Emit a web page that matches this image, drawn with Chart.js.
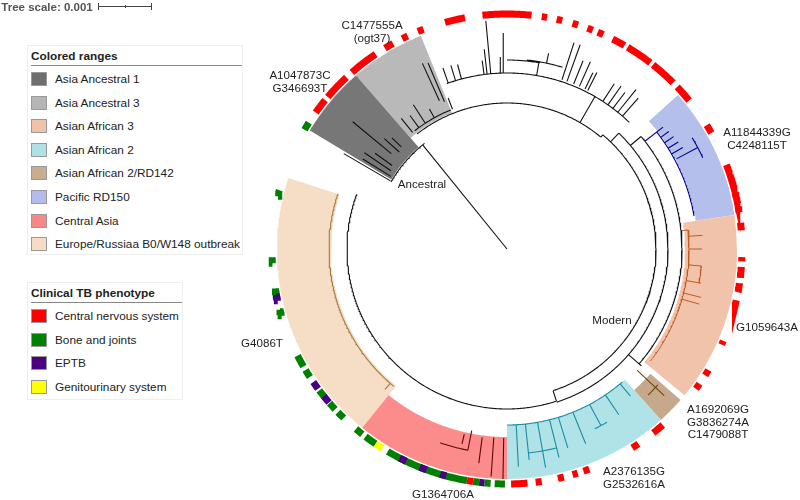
<!DOCTYPE html>
<html><head><meta charset="utf-8">
<script src="https://cdn.jsdelivr.net/npm/chart.js@4.4.0/dist/chart.umd.min.js"></script>
<style>
body{margin:0;background:#fff;font-family:"Liberation Sans",Arial,sans-serif;color:#222;}
#wrap{position:relative;width:800px;height:500px;overflow:hidden;}
canvas{position:absolute;left:0;top:0;}
.t{position:absolute;font-size:11.6px;white-space:nowrap;line-height:12.5px;text-align:center;transform:translate(-50%,-50%);}
.lg{position:absolute;background:#fff;border:1px solid #eeeeee;}
.lg .ti{position:absolute;left:3px;font-weight:bold;font-size:11.8px;}
.lg .ul{position:absolute;left:3px;height:1px;background:#888;}
.lg .sw{position:absolute;left:3px;width:16px;height:14px;box-sizing:border-box;border:1px solid #999;}
.lg .it{position:absolute;left:27px;font-size:11.8px;white-space:nowrap;}
</style></head>
<body><div id="wrap"><canvas id="c" width="800" height="500"></canvas></div>
<script>
// ---------- DATA (angles: degrees clockwise from top; radii: tree depth units) ----------
const rangeNames  = ["Asia Ancestral 1","Asia Ancestral 3","Asian African 3","Asian African 2","Asian African 2/RD142","Pacific RD150","Central Asia","Europe/Russiaa B0/W148 outbreak"];
const rangeStart  = [301, 319, 81.5, 138, 131, 48, 180, 219];
const rangeEnd    = [319, 338, 129.5, 180, 138, 81.5, 219, 288];
const rangeInner  = [135, 147, 178, 176, 190, 191, 188, 176];
const rangeOuter  = [230, 230, 230, 230, 230, 230, 230, 230];

const phenoNames = ["Central nervous system","Bone and joints","EPTB","Genitourinary system"];
// phenotype marks: [start, end] per category
const cnsMarks = [[305.5,309.3],[310.3,316.9],[318.7,326],[328.7,331],[333.5,335],[337.7,339.2],[344.7,349.7],[354,366],[368.5,369.8],[372.2,373.6],[376.2,377.6],[380,381.4],[382.7,384.2],[386.7,390],[390.9,397.6],[398.4,405],[406.4,410.8],[58.2,60.4],[69,71.3],[71.6,74.8],[76,78.8],[79.6,81.1],[83.6,85.4],[92,93],[94.4,97],[98.4,100.6],[102.6,103.5],[113,114],[121,122.5],[125,126.5],[138.5,141.5],[146,147.8],[159.5,161],[162.5,163.8],[166,167.5],[171.5,173],[175,179],[188.3,189.8]];
const boneMarks = [[300.5,302.5],[283,284.5],[266.5,268],[258.7,260.3],[253.5,255],[240,243],[237,239],[231,233],[227,229],[224,226],[218,220],[214,217],[189.8,210.5],[180.5,183],[184,185.5],[186.8,188.3]];
const eptbMarks = [[257.3,258.7],[233.5,235.5],[229.2,231.2],[205.4,207.2],[200,201.8],[195,196.5],[185.5,186.8]];
const guMarks   = [[212,214]];

// tree: arcs [radius, startAngle, endAngle], radials [angle, r0, r1]
const treeArcsBlack = [[134,300,322],[146,322,400],[149,400,522],[160,522,650],[176,340,404],[189,0,10],[190,6,17],[150,322,338],[161,44,162],[175,50,131]];
const treeRadBlack  = [[321,0,134],[300.3,135,189],[302,137,170],[304,140,172],[306,142,163],[309.5,150,200],[312,145,165],[314,147,160],[321,150,168],[324,150,165],[327,150,172],[331,150,160],[335.5,163,204],[337,160,202],[338.7,150,162],
  [340.5,176,192],[343,176,192],[345,176,191],[352.5,176,190],[353.5,176,201],[354.7,176,229],[358,176,192],[359,176,216],[9.7,176,190],[12,190,200],[18,178,217],[19.7,178,217],[22,178,203],[24,178,205],[26,178,196],[27,178,198],
  [33,176,197],[35,176,199],[37,176,196],[39,176,205],[41,176,200],[162,149,160],[30,146,176],[40,146,149],[44,149,161],[50,161,175],[131,175,178],[131,161,175]];
const treeArcsNavy = [[190,52,80],[216,59,65]];
const treeRadNavy  = [[52,175,198],[54,190,200],[56,190,201],[58,190,202],[60,190,203],[62,192,216]];
const treeArcsOrange = [[182,84,128],[195,95,100]];
const treeRadOrange  = [[84,175,182],[86,182,196],[90,182,195],[95,182,195],[100,182,197],[104,182,200],[106,182,200]];
const treeArcsTeal = [[176,139,180],[205,166,174],[200,150,154]];
const treeRadTeal  = [[140,176,192],[146,176,200],[152,176,200],[158,176,210],[163,176,208],[166,176,215],[170,176,222],[174,176,212],[177,176,218]];
const treeArcsBrown = [[203,132,136]];
const treeRadBrown  = [[133,178,215]];
const treeArcsDred = [[205,191,199]];
const treeRadDred  = [[181,189,230],[184,189,228],[187.5,190,216],[191,185,205],[193,190,200]];
const treeArcsGold = [[178,219.5,288]];
const treeRadGold  = [[221,178,186]];

// ---------- helpers ----------
const P = (a, r) => ({x: r * Math.sin(a * Math.PI / 180), y: r * Math.cos(a * Math.PI / 180)});
const GAP = {x: NaN, y: NaN};
function arcPts(r, a0, a1) {
  const n = Math.max(2, Math.ceil(Math.abs(a1 - a0) / 0.5) + 1), out = [];
  for (let i = 0; i < n; i++) out.push(P(a0 + (a1 - a0) * i / (n - 1), r));
  return out;
}
function treePts(arcs, rads) {
  let pts = [];
  arcs.forEach(([r, a0, a1]) => { pts = pts.concat(arcPts(r, a0, a1)); pts.push(GAP); });
  rads.forEach(([a, r0, r1]) => { pts.push(P(a, r0), P(a, r1), GAP); });
  return pts;
}
function markPts(list, r) {
  let pts = [];
  list.forEach(([a0, a1]) => { pts = pts.concat(arcPts(r, a0, a1)); pts.push(GAP); });
  return pts;
}
function sectorPts(a0, a1, r0, r1) {
  return arcPts(r1, a0, a1).concat(arcPts(r0, a1, a0));
}

const rangeFill = ["#777777","#b9b9b9","#f2c3ab","#b0e3e7","#c6a88b","#b4bfec","#fc8b8b","#f6ddc5"];
const rangeSw   = ["#6e6e6e","#b5b5b5","#f0c2aa","#ade1e6","#c9ad90","#b3bcec","#fb8686","#f6dcc4"];
const phenoCol  = ["#ff0000","#008000","#4b0082","#ffff00"];

const datasets = [];
const line = (data, color, w, order) => ({type:'line', data, borderColor: color, borderWidth: w, pointRadius: 0, fill: false, tension: 0, spanGaps: false, borderCapStyle: 'butt', order});
datasets.push(line(markPts(eptbMarks, 235), phenoCol[2], 7, 1));
datasets.push(line(markPts(guMarks, 235), phenoCol[3], 7, 1));
datasets.push(line(markPts(cnsMarks, 235), phenoCol[0], 7, 2));
datasets.push(line(markPts(boneMarks, 235), phenoCol[1], 7, 3));
datasets.push(line(treePts(treeArcsBlack, treeRadBlack), '#111', 1.1, 10));
datasets.push(line(treePts(treeArcsNavy, treeRadNavy), '#00008b', 1.1, 10));
datasets.push(line(treePts(treeArcsOrange, treeRadOrange), '#c25a24', 1, 10));
datasets.push(line(treePts(treeArcsTeal, treeRadTeal), '#1b8ea0', 1.1, 10));
datasets.push(line(treePts(treeArcsBrown, treeRadBrown), '#6b4414', 1.1, 10));
datasets.push(line(treePts(treeArcsDred, treeRadDred), '#5a0808', 1.1, 10));
datasets.push(line(treePts(treeArcsGold, treeRadGold), '#a67b3d', 1.1, 10));
rangeNames.forEach((n, i) => {
  datasets.push({type:'line', label: n, data: sectorPts(rangeStart[i], rangeEnd[i], rangeInner[i], rangeOuter[i]), borderWidth: 0, borderColor: 'rgba(0,0,0,0)', backgroundColor: rangeFill[i], fill: 'shape', pointRadius: 0, tension: 0, order: 50});
});

new Chart(document.getElementById('c'), {
  type: 'scatter',
  data: {datasets},
  options: {
    responsive: false, animation: false, devicePixelRatio: 1,
    layout: {padding: 0},
    plugins: {legend: {display: false}, tooltip: {enabled: false}},
    scales: {
      x: {type: 'linear', min: -507, max: 293, display: false},
      y: {type: 'linear', min: -251, max: 249, display: false}
    }
  }
});

// ---------- text ----------
const wrap = document.getElementById('wrap');
function txt(html, x, y, extra) {
  const d = document.createElement('div'); d.className = 't'; d.innerHTML = html;
  d.style.left = x + 'px'; d.style.top = y + 'px'; if (extra) d.style.cssText += extra; wrap.appendChild(d);
}
const labels = [["C1477555A<br>(ogt37)",372,31],["A1047873C<br>G346693T",300,81],["A11844339G<br>C4248115T",757,138],["G1059643A",767,327],["A1692069G<br>G3836274A<br>C1479088T",718,422],["A2376135G<br>G2532616A",634,477],["G1364706A",443,494],["G4086T",262,343],["Ancestral",422,184],["Modern",612,320]];
labels.forEach(l => txt(l[0], l[1], l[2]));
txt('<b>Tree scale: 0.001</b>', 47, 7, 'color:#555;font-size:11.5px;');
const bar = document.createElement('div');
bar.innerHTML = '<div style="position:absolute;left:98px;top:6px;width:54px;height:1px;background:#444"></div><div style="position:absolute;left:98px;top:3px;width:1px;height:7px;background:#444"></div><div style="position:absolute;left:151px;top:3px;width:1px;height:7px;background:#444"></div><div style="position:absolute;left:125px;top:5px;width:1px;height:3px;background:#444"></div>';
wrap.appendChild(bar);

function legend(x, y, w, h, title, names, cols, ulw) {
  const b = document.createElement('div'); b.className = 'lg';
  b.style.left = x + 'px'; b.style.top = y + 'px'; b.style.width = w + 'px'; b.style.height = h + 'px';
  let s = '<div class="ti" style="top:3px">' + title + '</div><div class="ul" style="top:19px;width:' + ulw + 'px"></div>';
  names.forEach((n, i) => {
    const yy = 26 + i * 23.6;
    s += '<div class="sw" style="top:' + yy + 'px;background:' + cols[i] + '"></div><div class="it" style="top:' + yy + 'px">' + n + '</div>';
  });
  b.innerHTML = s; wrap.appendChild(b);
}
legend(27, 45, 214, 208, 'Colored ranges', rangeNames, rangeSw, 211);
legend(27, 282, 154, 116, 'Clinical TB phenotype', phenoNames, phenoCol, 151);
</script></body></html>
